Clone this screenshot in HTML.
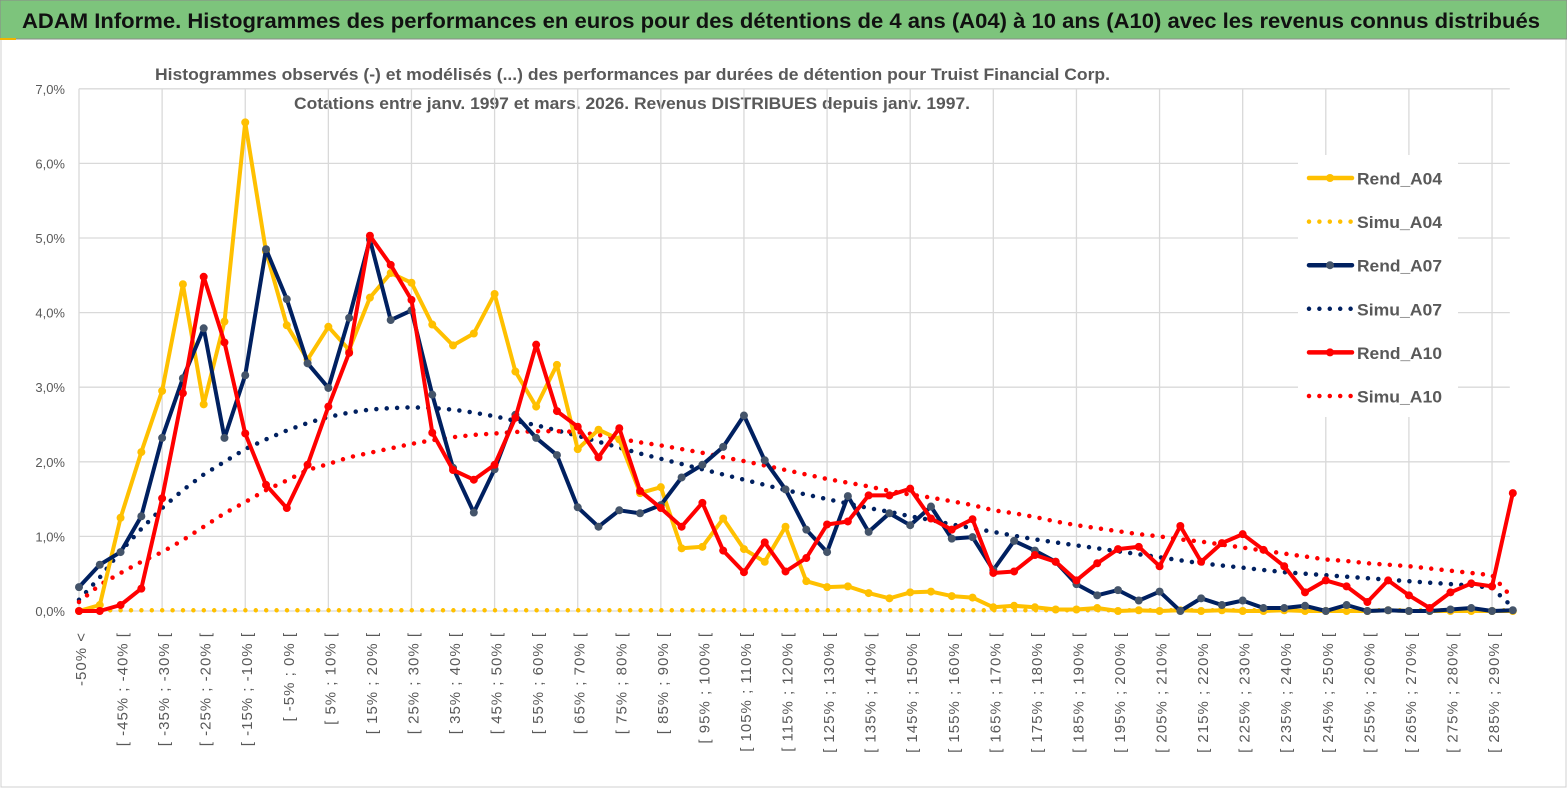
<!DOCTYPE html>
<html><head><meta charset="utf-8">
<style>
html,body{margin:0;padding:0;background:#fff;}
svg{display:block;font-family:"Liberation Sans",sans-serif;}
</style></head>
<body>
<svg id="chart" width="1567" height="789" viewBox="0 0 1567 789">
  <rect x="0" y="0" width="1567" height="789" fill="#fff"/>
  <rect x="1" y="1" width="1565" height="786" fill="none" stroke="#d0d0d0" stroke-width="1"/>
  <rect x="0" y="0" width="1567" height="39" fill="#7dc47c" stroke="#8a8a8a" stroke-width="1"/>
  <text x="22" y="28" font-size="21" font-weight="bold" fill="#111" textLength="1518" lengthAdjust="spacingAndGlyphs">ADAM Informe. Histogrammes des performances en euros pour des détentions de 4 ans (A04) à 10 ans (A10) avec les revenus connus distribués</text>
  <rect x="0" y="38" width="16" height="2" fill="#f0b400"/>
  <text x="155" y="80" font-size="17" font-weight="bold" fill="#595959" textLength="955" lengthAdjust="spacingAndGlyphs">Histogrammes observés (-) et modélisés (...) des performances par durées de détention pour Truist Financial Corp.</text>
  <text x="294" y="109" font-size="17" font-weight="bold" fill="#595959" textLength="676" lengthAdjust="spacingAndGlyphs">Cotations entre janv. 1997 et mars. 2026. Revenus DISTRIBUES depuis janv. 1997.</text>
  <g id="grid"></g>
  <g id="yaxis"></g>
  <g id="xaxis"></g>
  <g id="series"></g>
  <g id="legend"></g>
</svg>
<script>
const yTicks = [0,1,2,3,4,5,6,7];
const rendA04 = [0.0,0.08,1.25,2.13,2.95,4.38,2.77,3.88,6.55,4.82,3.83,3.37,3.81,3.5,4.2,4.53,4.4,3.84,3.56,3.72,4.25,3.21,2.74,3.3,2.17,2.43,2.3,1.58,1.66,0.84,0.86,1.24,0.83,0.66,1.13,0.4,0.32,0.33,0.24,0.17,0.25,0.26,0.2,0.18,0.05,0.07,0.05,0.02,0.02,0.04,0.0,0.01,0.0,0.01,0.0,0.01,0.0,0.0,0.01,0.0,0.0,0.0,0.0,0.01,0.0,0.0,0.0,0.0,0.0,0.0];
const simuA04 = [0.01,0.01,0.01,0.01,0.01,0.01,0.01,0.01,0.01,0.01,0.01,0.01,0.01,0.01,0.01,0.01,0.01,0.01,0.01,0.01,0.01,0.01,0.01,0.01,0.01,0.01,0.01,0.01,0.01,0.01,0.01,0.01,0.01,0.01,0.01,0.01,0.01,0.01,0.01,0.01,0.01,0.01,0.01,0.01,0.01,0.01,0.01,0.01,0.01,0.01,0.01,0.01,0.01,0.01,0.01,0.01,0.01,0.01,0.01,0.01,0.01,0.01,0.01,0.01,0.01,0.01,0.01,0.01,0.01,0.01];
const rendA07 = [0.32,0.62,0.79,1.27,2.32,3.12,3.79,2.32,3.16,4.85,4.18,3.32,2.99,3.93,4.98,3.9,4.03,2.9,1.92,1.32,1.9,2.63,2.32,2.09,1.39,1.13,1.35,1.31,1.42,1.79,1.96,2.2,2.62,2.02,1.63,1.09,0.79,1.54,1.06,1.31,1.15,1.4,0.97,0.99,0.55,0.94,0.81,0.66,0.36,0.21,0.28,0.14,0.26,0.0,0.17,0.08,0.14,0.04,0.04,0.07,0.0,0.08,0.0,0.01,0.0,0.0,0.02,0.04,0.0,0.01];
const simuA07 = [0.15,0.45,0.8,1.1,1.38,1.62,1.83,2.0,2.17,2.3,2.42,2.52,2.6,2.66,2.7,2.72,2.73,2.72,2.7,2.66,2.61,2.55,2.49,2.42,2.35,2.27,2.19,2.11,2.04,1.97,1.9,1.83,1.76,1.69,1.62,1.56,1.5,1.44,1.38,1.33,1.27,1.22,1.16,1.11,1.06,1.01,0.96,0.92,0.88,0.84,0.8,0.76,0.72,0.68,0.64,0.61,0.58,0.55,0.52,0.5,0.48,0.46,0.44,0.42,0.4,0.38,0.36,0.34,0.31,0.05];
const rendA10 = [0.0,0.0,0.08,0.3,1.51,2.92,4.48,3.6,2.38,1.69,1.38,1.96,2.74,3.46,5.03,4.64,4.17,2.39,1.89,1.76,1.96,2.59,3.57,2.68,2.47,2.06,2.45,1.61,1.38,1.13,1.45,0.81,0.52,0.92,0.53,0.71,1.16,1.2,1.55,1.55,1.64,1.24,1.09,1.23,0.51,0.53,0.75,0.66,0.41,0.64,0.83,0.86,0.6,1.14,0.66,0.91,1.03,0.82,0.6,0.25,0.41,0.33,0.12,0.41,0.21,0.04,0.25,0.37,0.33,1.58];
const simuA10 = [0.12,0.35,0.51,0.66,0.79,0.95,1.13,1.31,1.46,1.62,1.75,1.89,1.97,2.06,2.12,2.18,2.24,2.29,2.33,2.36,2.38,2.4,2.41,2.41,2.4,2.36,2.31,2.26,2.22,2.17,2.12,2.06,2.01,1.95,1.89,1.83,1.77,1.72,1.67,1.61,1.56,1.52,1.47,1.42,1.35,1.31,1.26,1.2,1.15,1.11,1.07,1.03,1.0,0.96,0.93,0.89,0.85,0.81,0.77,0.73,0.69,0.67,0.64,0.62,0.6,0.57,0.54,0.51,0.48,0.17];
const categories = ["-50% <"];
for (let k = 1; k < rendA04.length; k++) categories.push("[ " + (-55 + 5*k) + "% ; " + (-50 + 5*k) + "% [");

const NS = "http://www.w3.org/2000/svg";
const X0 = 79, DX = 20.78, Y0 = 611, PY = 74.6;
const xs = i => X0 + i * DX;
const ys = v => Y0 - v * PY;
function mk(tag, attrs, parent) {
  const e = document.createElementNS(NS, tag);
  for (const k in attrs) e.setAttribute(k, attrs[k]);
  parent.appendChild(e);
  return e;
}
const grid = document.getElementById('grid');
const yaxis = document.getElementById('yaxis');
const xaxis = document.getElementById('xaxis');
const series = document.getElementById('series');
const legend = document.getElementById('legend');
const XR = xs(69) - 3;

yTicks.forEach(t => {
  const l = mk('line', {x1: X0, x2: XR, y1: ys(t), y2: ys(t), stroke: '#d9d9d9', 'stroke-width': 1.3}, grid);
  
  
  const tx = mk('text', {x: 65, y: ys(t) + 5, 'text-anchor': 'end', 'font-size': 13, fill: '#595959'}, yaxis);
  tx.textContent = t.toFixed(1).replace('.', ',') + '%';
  
  
});
for (let i = 0; i < categories.length; i += 4) {
  const l = mk('line', {x1: xs(i), x2: xs(i), y1: ys(7), y2: Y0, stroke: '#d9d9d9', 'stroke-width': 1.3}, grid);
  
  
}
for (let i = 0; i < categories.length; i += 2) {
  const x = xs(i) + 7, y = 632;
  const tx = mk('text', {x: x, y: y, transform: `rotate(-90 ${x} ${y})`, 'text-anchor': 'end', 'font-size': 15, 'letter-spacing': 1, fill: '#595959'}, xaxis);
  tx.textContent = categories[i];
  
  
}
function pts(arr) { return arr.map((v, i) => xs(i).toFixed(1) + ',' + ys(v).toFixed(1)).join(' '); }
function dotted(arr, color, name) {
  const p = mk('polyline', {points: pts(arr), fill: 'none', stroke: color, 'stroke-width': 4.5, 'stroke-linecap': 'round', 'stroke-dasharray': '0 10.4'}, series);
  
  
}
function solid(arr, color, mcolor, name) {
  const g = mk('g', {}, series);
  
  
  mk('polyline', {points: pts(arr), fill: 'none', stroke: color, 'stroke-width': 4, 'stroke-linejoin': 'round'}, g);
  arr.forEach((v, i) => {
    const c = mk('circle', {cx: xs(i), cy: ys(v), r: 4, fill: mcolor}, g);
    
    
  });
}
dotted(simuA04, '#ffc000', 'simu-a04-line');
dotted(simuA07, '#002060', 'simu-a07-line');
dotted(simuA10, '#ff0000', 'simu-a10-line');
solid(rendA04, '#ffc000', '#ffc000', 'rend-a04-line');
solid(rendA07, '#002060', '#44546a', 'rend-a07-line');
solid(rendA10, '#ff0000', '#ff0000', 'rend-a10-line');

// legend
const lb = mk('rect', {x: 1298, y: 155, width: 160, height: 262, fill: '#fff'}, legend);


const entries = [
  ['Rend_A04', '#ffc000', '#ffc000', false],
  ['Simu_A04', '#ffc000', null, true],
  ['Rend_A07', '#002060', '#44546a', false],
  ['Simu_A07', '#002060', null, true],
  ['Rend_A10', '#ff0000', '#ff0000', false],
  ['Simu_A10', '#ff0000', null, true]
];
entries.forEach((e, k) => {
  const y = 178 + k * 43.6;
  const g = mk('g', {}, legend);
  
  
  if (e[3]) {
    mk('line', {x1: 1309, x2: 1352, y1: y, y2: y, stroke: e[1], 'stroke-width': 4.5, 'stroke-linecap': 'round', 'stroke-dasharray': '0 10.4'}, g);
  } else {
    mk('line', {x1: 1309, x2: 1352, y1: y, y2: y, stroke: e[1], 'stroke-width': 4.5, 'stroke-linecap': 'round'}, g);
    mk('circle', {cx: 1330, cy: y, r: 4, fill: e[2]}, g);
  }
  const t = mk('text', {x: 1357, y: y + 6.5, 'font-size': 17, 'font-weight': 'bold', fill: '#595959', textLength: 85, lengthAdjust: 'spacingAndGlyphs'}, g);
  t.textContent = e[0];
});
</script>
</body></html>
